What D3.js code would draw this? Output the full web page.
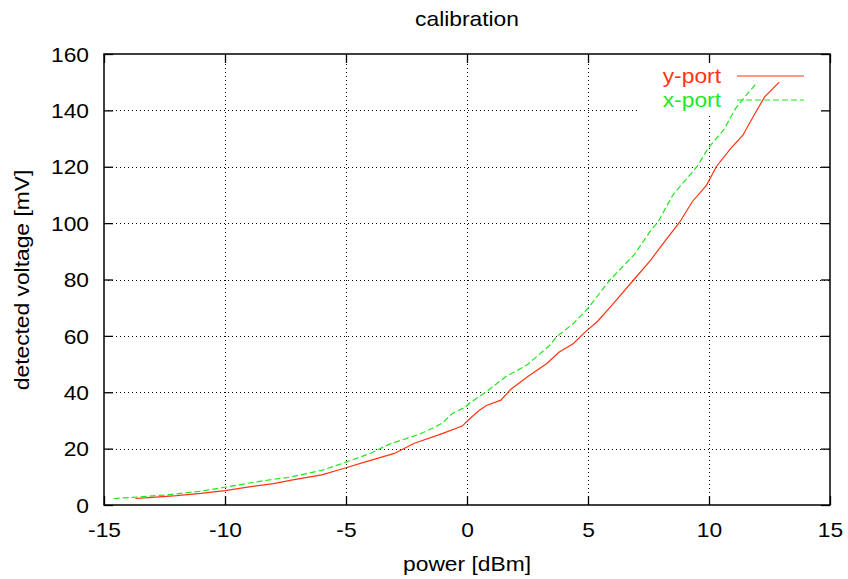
<!DOCTYPE html>
<html><head><meta charset="utf-8">
<script src="https://cdn.jsdelivr.net/npm/d3@7"></script>
<style>body{margin:0;background:#fff}</style>
</head><body><svg id="c" width="848" height="579"></svg>
<script>
const title = "calibration";
const xLabel = "power [dBm]";
const yLabel = "detected voltage [mV]";
const xTicks = [-15,-10,-5,0,5,10,15];
const yTicks = [0,20,40,60,80,100,120,140,160];

const yPortPower = [-13.7,-13,-12,-11,-10,-9,-8.7,-8,-7.2,-6,-5,-4.2,-3,-2.2,-1,-0.2,0.1,0.5,0.8,1.4,1.8,2.5,3.3,3.8,4.4,4.9,5.4,6.0,6.9,7.6,8.0,8.8,9.3,9.9,10.3,10.9,11.4,11.9,12.3,12.9];
const yPortVolt  = [2.3,2.7,3.3,4.1,5.1,6.4,6.8,7.6,8.9,10.7,13.2,15.3,18.3,21.8,25.4,28.0,30.5,33.5,35.3,37.2,41,45.5,50.2,54.2,57.3,61.5,65.2,71.0,80,87,91.6,100.5,107.5,113.5,120,126.5,131.2,138.9,144.8,150];

const xPortPower = [-14.6,-13.5,-12.4,-11,-10,-9,-8.5,-7.3,-6,-5,-4,-3.2,-2,-1.4,-1.0,-0.6,-0.1,0.1,0.8,1.6,2.5,3.4,3.7,4.4,5.0,5.9,6.9,7.6,7.9,8.5,8.9,9.5,10.0,10.6,11.1,11.6,12.0];
const xPortVolt  = [2.3,2.9,3.6,4.9,6.3,7.8,8.5,9.9,12.3,15.2,18.3,21.6,25,27.3,29.2,32.5,34.6,36.1,40.2,45.5,49.8,56.5,59.7,64.4,69.8,79.8,88.7,97.5,100.5,109.9,114,120,127,133,140.7,146,150];

const seriesNames = ["y-port","x-port"];
const seriesColors = ["#ff3311","#1ee81e"];

const L=104,R=830,T=54,B=505;
const SX=1.14, FS=20, FONT="'Liberation Sans', Arial, Helvetica, sans-serif";
const svg=d3.select("#c");
const x=d3.scaleLinear().domain([-15,15]).range([L,R]);
const y=d3.scaleLinear().domain([0,160]).range([B,T]);

// grid
const grid=svg.append("g");
grid.append("g").attr("transform",`translate(0,${B})`)
  .call(d3.axisBottom(x).tickValues(xTicks.slice(1,-1)).tickSize(-(B-T)).tickFormat(""))
  .call(g=>g.select(".domain").remove());
grid.append("g").attr("transform",`translate(${L},0)`)
  .call(d3.axisLeft(y).tickValues(yTicks.slice(1,-1)).tickSize(-(R-L)).tickFormat(""))
  .call(g=>g.select(".domain").remove());
grid.selectAll("line").attr("stroke","#000").attr("stroke-width",1).attr("stroke-dasharray","1,3").attr("shape-rendering","crispEdges");

// legend box blank
svg.append("rect").attr("x",637).attr("y",T+1).attr("width",R-637-1).attr("height",58).attr("fill","#fff");

// axes with inward ticks
function styleAxis(g){g.select(".domain").remove();g.selectAll("line").attr("stroke","#000").attr("stroke-width",1.3);}
const tk=9;
const fmt=d=>String(d);
const axB=svg.append("g").attr("transform",`translate(0,${B})`).call(d3.axisBottom(x).tickValues(xTicks).tickSizeInner(-tk).tickSizeOuter(0).tickFormat(fmt)).call(styleAxis);
svg.append("g").attr("transform",`translate(0,${T})`).call(d3.axisTop(x).tickValues(xTicks).tickSizeInner(-tk).tickSizeOuter(0).tickFormat("")).call(styleAxis);
const axL=svg.append("g").attr("transform",`translate(${L},0)`).call(d3.axisLeft(y).tickValues(yTicks).tickSizeInner(-tk).tickSizeOuter(0).tickFormat(fmt)).call(styleAxis);
svg.append("g").attr("transform",`translate(${R},0)`).call(d3.axisRight(y).tickValues(yTicks).tickSizeInner(-tk).tickSizeOuter(0).tickFormat("")).call(styleAxis);

axB.selectAll("text").attr("y",32).attr("dy",null).attr("font-size",FS).attr("font-family",FONT).attr("fill","#000").attr("transform",`scale(${SX},1)`);
axL.selectAll("text").attr("x",-15/SX).attr("dy","0.36em").attr("font-size",FS).attr("font-family",FONT).attr("fill","#000").attr("transform",`scale(${SX},1)`);

// frame
svg.append("rect").attr("x",L).attr("y",T).attr("width",R-L).attr("height",B-T).attr("fill","none").attr("stroke","#000").attr("stroke-width",1.5);

// data
const line=d3.line().x(d=>x(d[0])).y(d=>y(d[1]));
const yData=yPortPower.map((p,i)=>[p,yPortVolt[i]]);
const xData=xPortPower.map((p,i)=>[p,xPortVolt[i]]);
svg.append("path").datum(xData).attr("d",line).attr("fill","none").attr("stroke",seriesColors[1]).attr("stroke-width",1.2).attr("stroke-dasharray","6,3");
svg.append("path").datum(yData).attr("d",line).attr("fill","none").attr("stroke",seriesColors[0]).attr("stroke-width",1.2);

// legend
const leg=[{n:seriesNames[0],c:seriesColors[0],ty:83,ly:76,dash:null},{n:seriesNames[1],c:seriesColors[1],ty:107,ly:100,dash:"6,3"}];
leg.forEach(d=>{
  svg.append("text").attr("transform",`translate(721,${d.ty}) scale(${SX},1)`).attr("text-anchor","end").attr("font-size",FS).attr("font-family",FONT).attr("fill",d.c).text(d.n);
  svg.append("line").attr("x1",737).attr("x2",804).attr("y1",d.ly).attr("y2",d.ly).attr("stroke",d.c).attr("stroke-width",1.2).attr("stroke-dasharray",d.dash);
});

// titles
svg.append("text").attr("transform",`translate(467,26) scale(${SX},1)`).attr("text-anchor","middle").attr("font-size",FS).attr("font-family",FONT).attr("fill","#000").text(title);
svg.append("text").attr("transform",`translate(467,571) scale(${SX},1)`).attr("text-anchor","middle").attr("font-size",FS).attr("font-family",FONT).attr("fill","#000").text(xLabel);
svg.append("text").attr("transform",`translate(29,280) rotate(-90) scale(${SX},1)`).attr("text-anchor","middle").attr("font-size",FS).attr("font-family",FONT).attr("fill","#000").text(yLabel);
</script></body></html>
